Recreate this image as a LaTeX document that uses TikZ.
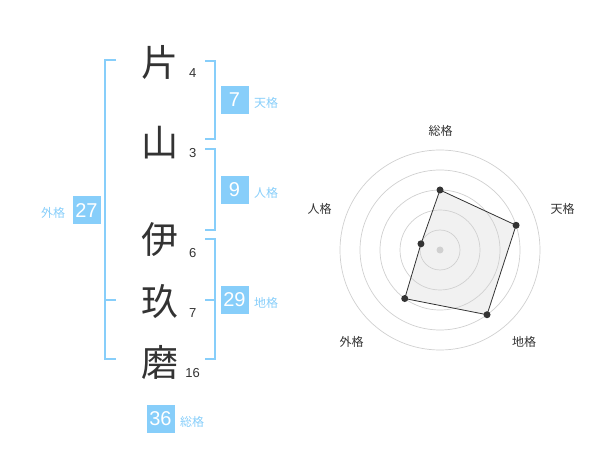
\documentclass[tikz,border=0pt]{standalone}
\usepackage{fontspec}
\setmainfont{Liberation Sans}
\newfontfamily\jp{Noto Sans CJK JP}
\definecolor{sky}{HTML}{87CEFA}
\definecolor{ink}{HTML}{333333}
\definecolor{ringc}{HTML}{D0D0D0}
\begin{document}
\begin{tikzpicture}[x=1pt,y=-1pt,
 kanji/.style={font=\jp\fontsize{37}{37}\selectfont, text=ink, inner sep=0pt},
 strokes/.style={font=\fontsize{13}{13}\selectfont, text=ink, inner sep=0pt},
 valbox/.style={fill=sky, text=white, minimum width=28pt, minimum height=28pt, inner sep=0pt, font=\fontsize{20}{20}\selectfont},
 kaku/.style={font=\jp\fontsize{12}{12}\selectfont, text=sky, inner sep=0pt},
 bracket/.style={draw=sky, line width=2pt},
 ring/.style={draw=ringc, line width=0.7pt},
 axislabel/.style={font=\jp\fontsize{12}{12}\selectfont, text=ink, inner sep=0pt},
 dot/.style={circle, fill=ink, inner sep=0pt, minimum size=7pt}
]
\useasboundingbox (0,0) rectangle (600,470);
% kanji
\node[kanji] (k1) at (160,62) {片};
\node[kanji] (k2) at (160,143) {山};
\node[kanji] (k3) at (160,240) {伊};
\node[kanji] (k4) at (160,302) {玖};
\node[kanji] (k5) at (160,362) {磨};
% stroke counts
\node[strokes] (s1) at (192.7,72.7) {4};
\node[strokes] (s2) at (192.7,153) {3};
\node[strokes] (s3) at (192.7,253) {6};
\node[strokes] (s4) at (192.7,313) {7};
\node[strokes] (s5) at (192.7,373) {16};
% brackets
\draw[bracket] (116,60) -- (105,60) -- (105,359.5) -- (116,359.5);
\draw[bracket] (105,300) -- (116,300);
\draw[bracket] (205,60.7) -- (214.5,60.7) -- (214.5,139.3) -- (205,139.3);
\draw[bracket] (205,149) -- (214.5,149) -- (214.5,230) -- (205,230);
\draw[bracket] (205,239) -- (214.5,239) -- (214.5,359.5) -- (205,359.5);
\draw[bracket] (205,300) -- (214.5,300);
% value boxes
\node[valbox] (ten) at (234.5,100) {7};
\node[kaku] (tenl) at (266,103) {天格};
\node[valbox] (jin) at (234.5,190) {9};
\node[kaku] (jinl) at (266,193) {人格};
\node[valbox] (chi) at (234.5,300) {29};
\node[kaku] (chil) at (266,303) {地格};
\node[valbox] (gai) at (86.5,210.5) {27};
\node[kaku] (gail) at (53,213) {外格};
\node[valbox] (sou) at (160.5,419) {36};
\node[kaku] (soul) at (192,422) {総格};
% radar
\begin{scope}[shift={(440,250)}]
\coordinate (p1) at (-90:60);
\coordinate (p2) at (-18:80);
\coordinate (p3) at (54:80);
\coordinate (p4) at (126:60);
\coordinate (p5) at (198:20);
\fill[black, fill opacity=0.055] (p1) -- (p2) -- (p3) -- (p4) -- (p5) -- cycle;
\foreach \r in {20,40,60,80,100} \draw[ring] (0,0) circle (\r pt);
\fill[ringc] (0,0) circle (3.5pt);
\draw[ink, line width=0.8pt] (p1) -- (p2) -- (p3) -- (p4) -- (p5) -- cycle;
\node[dot] (d1) at (p1) {};
\node[dot] (d2) at (p2) {};
\node[dot] (d3) at (p3) {};
\node[dot] (d4) at (p4) {};
\node[dot] (d5) at (p5) {};
\end{scope}
\node[axislabel] (a1) at (440.5,130.5) {総格};
\node[axislabel] (a2) at (562.5,208.5) {天格};
\node[axislabel] (a3) at (319.5,208.5) {人格};
\node[axislabel] (a4) at (351.7,342) {外格};
\node[axislabel] (a5) at (524,342) {地格};
\end{tikzpicture}
\end{document}
